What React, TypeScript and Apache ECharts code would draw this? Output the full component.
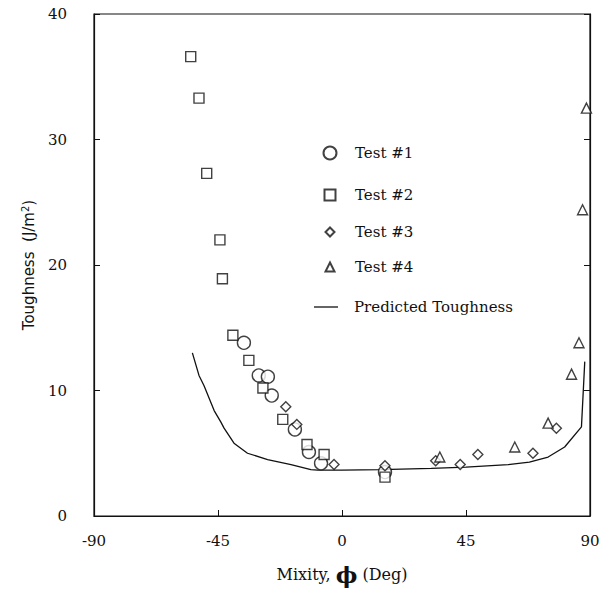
import React, { useEffect, useRef } from "react";
import * as echarts from "echarts";

const test1X = [-35.6, -30.2, -26.9, -25.5, -17.1, -12.0, -7.6, 15.6];
const test1Y = [13.8, 11.2, 11.1, 9.6, 6.9, 5.1, 4.2, 3.5];

const test2X = [-54.9, -51.9, -49.1, -44.3, -43.4, -39.6, -33.8, -28.7, -21.5, -12.7, -6.5, 15.6];
const test2Y = [36.6, 33.3, 27.3, 22.0, 18.9, 14.4, 12.4, 10.2, 7.7, 5.7, 4.9, 3.1];

const test3X = [-20.4, -16.4, -2.9, 15.6, 34.0, 42.9, 49.3, 69.3, 77.8];
const test3Y = [8.7, 7.3, 4.1, 4.0, 4.4, 4.1, 4.9, 5.0, 7.0];

const test4X = [35.5, 62.7, 74.8, 83.3, 86.0, 87.3, 88.7];
const test4Y = [4.7, 5.5, 7.4, 11.3, 13.8, 24.4, 32.5];

const predX = [-54.3, -51.9, -50.1, -46.4, -44.0, -42.8, -39.2, -34.3, -27.0, -18.5, -11.3, -8.8, 0, 14.2, 32.4, 45.0, 60.3, 68.0, 74.8, 80.8, 86.9, 88.1];
const predY = [13.0, 11.2, 10.4, 8.4, 7.5, 7.0, 5.8, 5.0, 4.5, 4.1, 3.7, 3.65, 3.65, 3.7, 3.8, 3.9, 4.1, 4.3, 4.7, 5.5, 7.1, 12.3];

const xTicks = [-90, -45, 0, 45, 90];
const yTicks = [0, 10, 20, 30, 40];

const FONT = "DejaVu Serif";
const INK = "#111";

const zip = (xs: number[], ys: number[]) => xs.map((x, i) => [x, ys[i]]);

export default function App() {
  const ref = useRef<HTMLDivElement>(null);
  useEffect(() => {
    if (!ref.current) return;
    const chart = echarts.init(ref.current, undefined, { renderer: "svg" });
    const markStyle = { color: "#fff", borderColor: INK, borderWidth: 1.4 };
    const SYM_X = 329;
    const TEXT_X = 354;
    const legendItem = (name: string, centerY: number, size: number, opts: any = {}) => {
      const iw = opts.iw ?? size;
      const ih = opts.ih ?? size;
      const left = opts.left ?? SYM_X - iw / 2;
      const gap = Math.max(0, TEXT_X - (left + iw + 5));
      return {
        show: true,
        orient: "vertical",
        left,
        top: centerY - 8,
        padding: 0,
        itemWidth: iw,
        itemHeight: ih,
        data: [opts.icon ? { name, icon: opts.icon } : name],
        selectedMode: false,
        formatter: (n: string) => "{g|}" + n,
        textStyle: {
          fontFamily: FONT,
          fontSize: 15,
          color: INK,
          lineHeight: 16,
          rich: { g: { width: gap, height: 16 } },
        },
      };
    };
    chart.setOption({
      animation: false,
      backgroundColor: "#fff",
      grid: {
        left: 94,
        right: 13,
        top: 14,
        bottom: 88,
        show: true,
        borderColor: INK,
        borderWidth: 1.2,
        backgroundColor: "transparent",
      },
      legend: [
        legendItem("Test #1", 153, 13),
        legendItem("Test #2", 195, 11),
        legendItem("Test #3", 232, 9),
        legendItem("Test #4", 267, 9),
        legendItem("Predicted Toughness", 307, 0, { iw: 24, ih: 1.3, left: 314, icon: "rect" }),
      ],
      xAxis: {
        type: "value",
        min: xTicks[0],
        max: xTicks[xTicks.length - 1],
        interval: 45,
        name: "Mixity, {phi|ϕ} (Deg)",
        nameLocation: "middle",
        nameGap: 47,
        nameTextStyle: {
          fontFamily: FONT,
          fontSize: 16,
          color: INK,
          rich: {
            phi: { fontFamily: "DejaVu Serif", fontSize: 23, fontWeight: "bold", color: INK },
          },
        },
        axisLine: { show: true, onZero: false, lineStyle: { color: INK, width: 1.2 } },
        axisTick: { show: true, inside: true, length: 6, lineStyle: { color: INK } },
        splitLine: { show: false },
        axisLabel: {
          margin: 17,
          fontFamily: FONT,
          fontSize: 15,
          color: INK,
          formatter: (v: number) => String(v),
        },
      },
      yAxis: [
        {
          type: "value",
          min: yTicks[0],
          max: yTicks[yTicks.length - 1],
          interval: 10,
          name: "Toughness  (J/m{sup|2})",
          nameLocation: "middle",
          nameGap: 57,
          nameTextStyle: {
            fontFamily: "DejaVu Sans",
            fontSize: 15,
            color: INK,
            rich: { sup: { fontFamily: "DejaVu Sans", fontSize: 10, color: INK, verticalAlign: "top", padding: [0, 0, 7, 0] } },
          },
          axisLine: { show: true, onZero: false, lineStyle: { color: INK, width: 1.2 } },
          axisTick: { show: true, inside: true, length: 6, lineStyle: { color: INK } },
          splitLine: { show: false },
          axisLabel: { margin: 27, fontFamily: FONT, fontSize: 15, color: INK },
        },
        {
          type: "value",
          position: "right",
          min: yTicks[0],
          max: yTicks[yTicks.length - 1],
          interval: 10,
          axisLine: { show: true, onZero: false, lineStyle: { color: INK, width: 1.2 } },
          axisTick: { show: true, inside: true, length: 6, lineStyle: { color: INK } },
          axisLabel: { show: false },
          splitLine: { show: false },
        },
      ],
      series: [
        {
          name: "Test #1",
          type: "scatter",
          symbol: "circle",
          symbolSize: 13,
          itemStyle: markStyle,
          data: zip(test1X, test1Y),
        },
        {
          name: "Test #2",
          type: "scatter",
          symbol: "rect",
          symbolSize: 10,
          itemStyle: markStyle,
          data: zip(test2X, test2Y),
        },
        {
          name: "Test #3",
          type: "scatter",
          symbol: "diamond",
          symbolSize: 10,
          itemStyle: markStyle,
          data: zip(test3X, test3Y),
        },
        {
          name: "Test #4",
          type: "scatter",
          symbol: "triangle",
          symbolSize: 10,
          itemStyle: markStyle,
          data: zip(test4X, test4Y),
        },
        {
          name: "Predicted Toughness",
          type: "line",
          symbol: "none",
          showSymbol: false,
          lineStyle: { color: INK, width: 1.3 },
          itemStyle: { color: INK },
          data: zip(predX, predY),
          z: 1,
        },
      ],
    });
    return () => chart.dispose();
  }, []);
  return (
    <div
      ref={ref}
      style={{ position: "fixed", left: 0, top: 0, width: 603, height: 604 }}
    />
  );
}
